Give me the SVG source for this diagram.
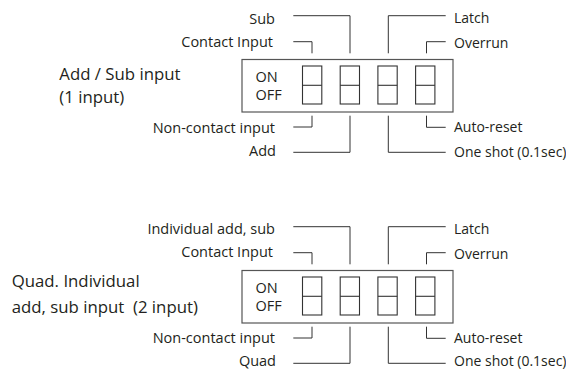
<svg xmlns="http://www.w3.org/2000/svg" xmlns:xlink="http://www.w3.org/1999/xlink" width="566" height="369" viewBox="0 0 566 369">
<style>
text{font-family:"Open Sans","Liberation Sans",sans-serif;font-size:14px;fill:#231f20}
.t{font-size:16.8px}
.r{text-anchor:end;font-size:14.5px}
.box{fill:#fff;stroke:#555;stroke-width:1.2}
.sw{fill:none;stroke:#333;stroke-width:1.1}
.ln{fill:none;stroke:#333;stroke-width:1}
</style>
<defs>
<g id="dip">
<rect class="box" x="242" y="59.5" width="211" height="52.5"/>
<text x="255.5" y="81.5" style="font-size:14.5px">ON</text>
<text x="255.5" y="100" style="font-size:14.5px">OFF</text>
<g class="sw">
<rect x="302.5" y="66" width="19.3" height="38"/><line x1="302.5" y1="85.3" x2="321.8" y2="85.3"/>
<rect x="340.2" y="66" width="19.3" height="38"/><line x1="340.2" y1="85.3" x2="359.5" y2="85.3"/>
<rect x="377.9" y="66" width="19.3" height="38"/><line x1="377.9" y1="85.3" x2="397.2" y2="85.3"/>
<rect x="415.6" y="66" width="19.3" height="38"/><line x1="415.6" y1="85.3" x2="434.9" y2="85.3"/>
</g>
</g>
<g id="wires" class="ln">
<polyline points="293.3,15.7 350,15.7 350,53.3"/>
<polyline points="293.3,41.7 312,41.7 312,53.3"/>
<polyline points="293.3,127 312,127 312,115.7"/>
<polyline points="293.3,152.3 350,152.3 350,115.7"/>
<polyline points="445.7,15.7 388.3,15.7 388.3,53.3"/>
<polyline points="445.7,41.7 426.5,41.7 426.5,53.3"/>
<polyline points="445.7,127.3 426.5,127.3 426.5,115.7"/>
<polyline points="445.7,152.3 388.3,152.3 388.3,115.7"/>
</g>
</defs>
<g id="connectors">
<use xlink:href="#wires"/>
<use xlink:href="#wires" transform="translate(0,211)"/>
</g>
<g id="switch-1">
<use xlink:href="#dip"/>
</g>
<g id="switch-2">
<use xlink:href="#dip" transform="translate(0,211)"/>
</g>
<g id="title-1">
<text class="t" x="59.3" y="80">Add / Sub input</text>
<text class="t" x="59.3" y="103.3">(1 input)</text>
</g>
<g id="labels-1">
<text class="r" x="275" y="24.3">Sub</text>
<text class="r" x="273" y="46.7">Contact Input</text>
<text class="r" x="275" y="132.7">Non-contact input</text>
<text class="r" x="276" y="155.7">Add</text>
<text x="454" y="23.3">Latch</text>
<text x="454" y="47.7">Overrun</text>
<text x="454" y="132">Auto-reset</text>
<text x="454" y="156.7">One shot (0.1sec)</text>
</g>
<g id="title-2">
<text class="t" x="11.7" y="286.7">Quad. Individual</text>
<text class="t" x="11.7" y="313.3" xml:space="preserve" style="white-space:pre">add, sub input  (2 input)</text>
</g>
<g id="labels-2">
<text class="r" x="275" y="234.3">Individual add, sub</text>
<text class="r" x="273" y="257.3">Contact Input</text>
<text class="r" x="275" y="343.3">Non-contact input</text>
<text class="r" x="276" y="366">Quad</text>
<text x="454" y="234.3">Latch</text>
<text x="454" y="258.7">Overrun</text>
<text x="454" y="343">Auto-reset</text>
<text x="454" y="365.5">One shot (0.1sec)</text>
</g>
</svg>
